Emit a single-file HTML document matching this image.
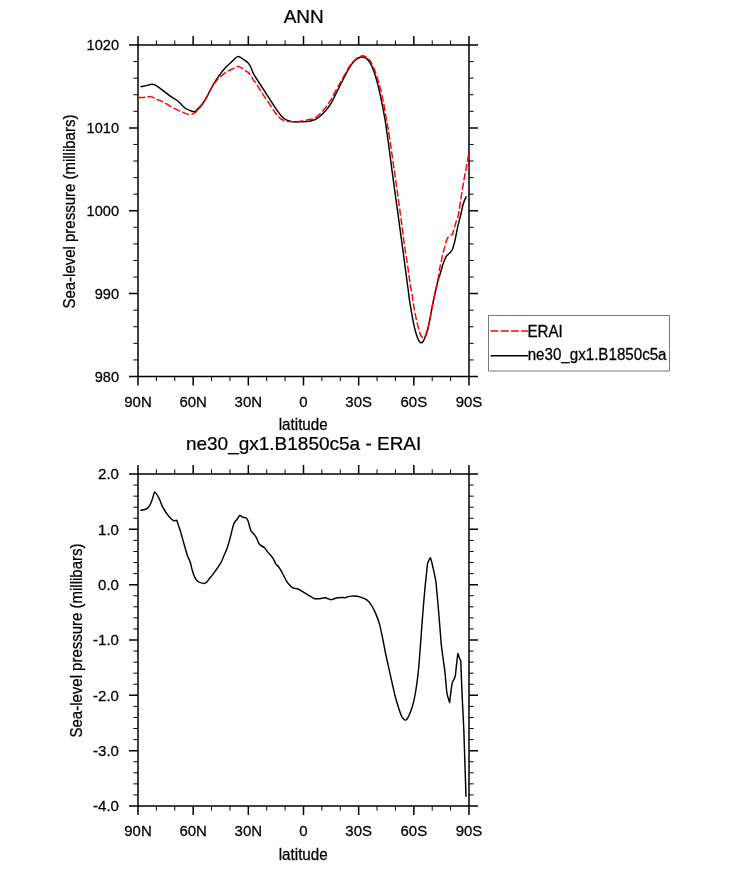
<!DOCTYPE html>
<html><head><meta charset="utf-8"><title>ANN sea-level pressure</title>
<style>
html,body{margin:0;padding:0;background:#fff;}
svg{display:block;will-change:transform;}
text{font-family:"Liberation Sans",sans-serif;fill:#000;stroke:#000;stroke-width:0.25px;}
.t{font-size:19px;text-anchor:middle;}
.x{font-size:15px;text-anchor:middle;}
.y{font-size:14.6px;text-anchor:end;}
.y2{font-size:15.1px;text-anchor:end;}
.a{font-size:15px;text-anchor:middle;}
.a2{font-size:15.2px;text-anchor:middle;}
.l{font-size:15.15px;text-anchor:start;}
</style></head><body>
<svg width="733" height="869" viewBox="0 0 733 869">
<rect width="733" height="869" fill="#fff"/>
<rect x="138.0" y="45.0" width="331.0" height="331.5" fill="none" stroke="#000" stroke-width="1.5"/>
<path d="M138.00 45.0v-9.0M138.00 376.5v9.0M193.17 45.0v-9.0M193.17 376.5v9.0M248.33 45.0v-9.0M248.33 376.5v9.0M303.50 45.0v-9.0M303.50 376.5v9.0M358.67 45.0v-9.0M358.67 376.5v9.0M413.83 45.0v-9.0M413.83 376.5v9.0M469.00 45.0v-9.0M469.00 376.5v9.0M138.0 45.00h-9.0M469.0 45.00h9.0M138.0 127.88h-9.0M469.0 127.88h9.0M138.0 210.75h-9.0M469.0 210.75h9.0M138.0 293.62h-9.0M469.0 293.62h9.0M138.0 376.50h-9.0M469.0 376.50h9.0" stroke="#000" stroke-width="1.5" fill="none"/>
<path d="M156.39 45.0v-4.6M156.39 376.5v4.6M174.78 45.0v-4.6M174.78 376.5v4.6M211.56 45.0v-4.6M211.56 376.5v4.6M229.94 45.0v-4.6M229.94 376.5v4.6M266.72 45.0v-4.6M266.72 376.5v4.6M285.11 45.0v-4.6M285.11 376.5v4.6M321.89 45.0v-4.6M321.89 376.5v4.6M340.28 45.0v-4.6M340.28 376.5v4.6M377.06 45.0v-4.6M377.06 376.5v4.6M395.44 45.0v-4.6M395.44 376.5v4.6M432.22 45.0v-4.6M432.22 376.5v4.6M450.61 45.0v-4.6M450.61 376.5v4.6M138.0 61.58h-4.6M469.0 61.58h4.6M138.0 78.15h-4.6M469.0 78.15h4.6M138.0 94.72h-4.6M469.0 94.72h4.6M138.0 111.30h-4.6M469.0 111.30h4.6M138.0 144.45h-4.6M469.0 144.45h4.6M138.0 161.03h-4.6M469.0 161.03h4.6M138.0 177.60h-4.6M469.0 177.60h4.6M138.0 194.18h-4.6M469.0 194.18h4.6M138.0 227.32h-4.6M469.0 227.32h4.6M138.0 243.90h-4.6M469.0 243.90h4.6M138.0 260.48h-4.6M469.0 260.48h4.6M138.0 277.05h-4.6M469.0 277.05h4.6M138.0 310.20h-4.6M469.0 310.20h4.6M138.0 326.77h-4.6M469.0 326.77h4.6M138.0 343.35h-4.6M469.0 343.35h4.6M138.0 359.93h-4.6M469.0 359.93h4.6" stroke="#000" stroke-width="1.0" fill="none"/>
<rect x="138.0" y="474.0" width="331.0" height="332.0" fill="none" stroke="#000" stroke-width="1.5"/>
<path d="M138.00 474.0v-9.0M138.00 806.0v9.0M193.17 474.0v-9.0M193.17 806.0v9.0M248.33 474.0v-9.0M248.33 806.0v9.0M303.50 474.0v-9.0M303.50 806.0v9.0M358.67 474.0v-9.0M358.67 806.0v9.0M413.83 474.0v-9.0M413.83 806.0v9.0M469.00 474.0v-9.0M469.00 806.0v9.0M138.0 474.00h-9.0M469.0 474.00h9.0M138.0 529.33h-9.0M469.0 529.33h9.0M138.0 584.67h-9.0M469.0 584.67h9.0M138.0 640.00h-9.0M469.0 640.00h9.0M138.0 695.33h-9.0M469.0 695.33h9.0M138.0 750.67h-9.0M469.0 750.67h9.0M138.0 806.00h-9.0M469.0 806.00h9.0" stroke="#000" stroke-width="1.5" fill="none"/>
<path d="M156.39 474.0v-4.6M156.39 806.0v4.6M174.78 474.0v-4.6M174.78 806.0v4.6M211.56 474.0v-4.6M211.56 806.0v4.6M229.94 474.0v-4.6M229.94 806.0v4.6M266.72 474.0v-4.6M266.72 806.0v4.6M285.11 474.0v-4.6M285.11 806.0v4.6M321.89 474.0v-4.6M321.89 806.0v4.6M340.28 474.0v-4.6M340.28 806.0v4.6M377.06 474.0v-4.6M377.06 806.0v4.6M395.44 474.0v-4.6M395.44 806.0v4.6M432.22 474.0v-4.6M432.22 806.0v4.6M450.61 474.0v-4.6M450.61 806.0v4.6M138.0 485.07h-4.6M469.0 485.07h4.6M138.0 496.13h-4.6M469.0 496.13h4.6M138.0 507.20h-4.6M469.0 507.20h4.6M138.0 518.27h-4.6M469.0 518.27h4.6M138.0 540.40h-4.6M469.0 540.40h4.6M138.0 551.47h-4.6M469.0 551.47h4.6M138.0 562.53h-4.6M469.0 562.53h4.6M138.0 573.60h-4.6M469.0 573.60h4.6M138.0 595.73h-4.6M469.0 595.73h4.6M138.0 606.80h-4.6M469.0 606.80h4.6M138.0 617.87h-4.6M469.0 617.87h4.6M138.0 628.93h-4.6M469.0 628.93h4.6M138.0 651.07h-4.6M469.0 651.07h4.6M138.0 662.13h-4.6M469.0 662.13h4.6M138.0 673.20h-4.6M469.0 673.20h4.6M138.0 684.27h-4.6M469.0 684.27h4.6M138.0 706.40h-4.6M469.0 706.40h4.6M138.0 717.47h-4.6M469.0 717.47h4.6M138.0 728.53h-4.6M469.0 728.53h4.6M138.0 739.60h-4.6M469.0 739.60h4.6M138.0 761.73h-4.6M469.0 761.73h4.6M138.0 772.80h-4.6M469.0 772.80h4.6M138.0 783.87h-4.6M469.0 783.87h4.6M138.0 794.93h-4.6M469.0 794.93h4.6" stroke="#000" stroke-width="1.0" fill="none"/>
<path d="M140.30 86.60C140.83 86.53 142.48 86.37 143.50 86.20C144.52 86.03 145.40 85.85 146.40 85.60C147.40 85.35 148.60 84.92 149.50 84.70C150.40 84.48 150.95 84.28 151.80 84.30C152.65 84.32 153.73 84.48 154.60 84.80C155.47 85.12 156.18 85.68 157.00 86.20C157.82 86.72 158.27 86.98 159.50 87.90C160.73 88.82 162.77 90.45 164.40 91.70C166.03 92.95 167.80 94.32 169.30 95.40C170.80 96.48 172.03 97.32 173.40 98.20C174.77 99.08 176.13 99.60 177.50 100.70C178.87 101.80 180.23 103.50 181.60 104.80C182.97 106.10 184.30 107.55 185.70 108.50C187.10 109.45 188.57 109.97 190.00 110.50C191.43 111.03 193.08 111.85 194.30 111.70C195.52 111.55 196.28 110.50 197.30 109.60C198.32 108.70 199.20 107.75 200.40 106.30C201.60 104.85 203.10 103.12 204.50 100.90C205.90 98.68 207.33 95.73 208.80 93.00C210.27 90.27 211.62 87.35 213.30 84.50C214.98 81.65 216.82 78.77 218.90 75.90C220.98 73.03 223.72 69.60 225.80 67.30C227.88 65.00 229.75 63.68 231.40 62.10C233.05 60.52 234.62 58.72 235.70 57.80C236.78 56.88 237.17 56.72 237.90 56.60C238.63 56.48 239.17 56.62 240.10 57.10C241.03 57.58 242.22 58.60 243.50 59.50C244.78 60.40 246.65 61.35 247.80 62.50C248.95 63.65 249.55 64.75 250.40 66.40C251.25 68.05 252.18 70.82 252.90 72.40C253.62 73.98 253.47 73.88 254.70 75.90C255.93 77.92 258.43 81.62 260.30 84.50C262.17 87.38 264.03 90.32 265.90 93.20C267.77 96.08 269.63 98.93 271.50 101.80C273.37 104.67 275.45 108.03 277.10 110.40C278.75 112.77 280.10 114.57 281.40 116.00C282.70 117.43 283.75 118.20 284.90 119.00C286.05 119.80 286.87 120.35 288.30 120.80C289.73 121.25 292.00 121.50 293.50 121.70C295.00 121.90 295.85 122.00 297.30 122.00C298.75 122.00 300.32 121.80 302.20 121.70C304.08 121.60 306.82 121.63 308.60 121.40C310.38 121.17 311.60 120.70 312.90 120.30C314.20 119.90 314.95 119.93 316.40 119.00C317.85 118.07 320.02 116.13 321.60 114.70C323.18 113.27 324.18 112.55 325.90 110.40C327.62 108.25 330.18 104.67 331.90 101.80C333.62 98.93 334.75 96.08 336.20 93.20C337.65 90.32 339.15 87.38 340.60 84.50C342.05 81.62 343.40 78.77 344.90 75.90C346.40 73.03 348.17 69.60 349.60 67.30C351.03 65.00 352.20 63.55 353.50 62.10C354.80 60.65 356.32 59.38 357.40 58.60C358.48 57.82 359.18 57.67 360.00 57.40C360.82 57.13 361.23 56.83 362.30 57.00C363.37 57.17 365.18 57.53 366.40 58.40C367.62 59.27 368.52 60.48 369.60 62.20C370.68 63.92 371.80 65.97 372.90 68.70C374.00 71.43 375.10 74.77 376.20 78.60C377.30 82.43 378.42 86.93 379.50 91.70C380.58 96.47 381.72 102.17 382.70 107.20C383.68 112.23 384.76 118.10 385.40 121.90C386.04 125.70 385.90 125.38 386.55 130.00C387.20 134.62 388.34 142.50 389.30 149.60C390.26 156.70 391.28 164.95 392.30 172.60C393.32 180.25 394.32 187.60 395.40 195.50C396.48 203.40 397.95 213.80 398.80 220.00C399.65 226.20 399.75 227.17 400.50 232.70C401.25 238.23 402.38 246.37 403.30 253.20C404.22 260.03 405.18 267.57 406.00 273.70C406.82 279.83 407.67 285.93 408.20 290.00C408.73 294.07 408.68 294.57 409.20 298.10C409.72 301.63 410.58 307.02 411.30 311.20C412.02 315.38 412.78 319.75 413.50 323.20C414.22 326.65 414.88 329.35 415.60 331.90C416.32 334.45 417.07 336.77 417.80 338.50C418.53 340.23 419.35 341.58 420.00 342.30C420.65 343.02 421.15 342.98 421.70 342.80C422.25 342.62 422.67 342.28 423.30 341.20C423.93 340.12 424.77 338.22 425.50 336.30C426.23 334.38 426.98 332.43 427.70 329.70C428.42 326.97 429.08 323.53 429.80 319.90C430.52 316.27 431.27 311.72 432.00 307.90C432.73 304.08 433.38 300.82 434.20 297.00C435.02 293.18 436.23 287.83 436.90 285.00C437.57 282.17 437.68 281.75 438.20 280.00C438.72 278.25 439.48 276.17 440.00 274.50C440.52 272.83 440.92 271.37 441.30 270.00C441.68 268.63 441.92 267.55 442.30 266.30C442.68 265.05 443.12 263.77 443.60 262.50C444.08 261.23 444.70 259.82 445.20 258.70C445.70 257.58 446.07 256.55 446.60 255.80C447.13 255.05 447.73 254.83 448.40 254.20C449.07 253.57 449.92 252.83 450.60 252.00C451.28 251.17 451.98 250.30 452.50 249.20C453.02 248.10 453.28 246.88 453.70 245.40C454.12 243.92 454.57 242.20 455.00 240.30C455.43 238.40 455.83 236.32 456.30 234.00C456.77 231.68 457.28 228.72 457.80 226.40C458.32 224.08 458.92 222.00 459.40 220.10C459.88 218.20 460.05 217.73 460.70 215.00C461.35 212.27 462.37 206.82 463.30 203.70C464.23 200.58 465.80 197.53 466.30 196.30" fill="none" stroke="#000" stroke-width="1.45" stroke-linejoin="round"/>
<path d="M138.00 97.50C138.58 97.49 140.27 97.50 141.50 97.45C142.73 97.40 144.35 97.31 145.40 97.20C146.45 97.09 146.93 96.90 147.80 96.80C148.67 96.70 149.80 96.53 150.60 96.60C151.40 96.67 151.88 96.88 152.60 97.20C153.32 97.52 154.15 98.10 154.90 98.50C155.65 98.90 155.80 99.08 157.10 99.60C158.40 100.12 160.67 100.60 162.70 101.60C164.73 102.60 167.12 104.33 169.30 105.60C171.48 106.87 173.62 108.12 175.80 109.20C177.98 110.28 180.48 111.28 182.40 112.10C184.32 112.92 185.75 113.75 187.30 114.10C188.85 114.45 190.38 114.45 191.70 114.20C193.02 113.95 193.75 113.80 195.20 112.60C196.65 111.40 198.82 108.95 200.40 107.00C201.98 105.05 203.33 103.13 204.70 100.90C206.07 98.67 207.23 96.12 208.60 93.60C209.97 91.08 211.62 87.88 212.90 85.80C214.18 83.72 215.15 82.53 216.30 81.10C217.45 79.67 218.43 78.50 219.80 77.20C221.17 75.90 223.00 74.38 224.50 73.30C226.00 72.22 227.35 71.48 228.80 70.70C230.25 69.92 231.68 69.32 233.20 68.60C234.72 67.88 236.47 66.48 237.90 66.40C239.33 66.32 240.43 67.32 241.80 68.10C243.17 68.88 244.97 70.30 246.10 71.10C247.23 71.90 247.82 72.17 248.60 72.90C249.38 73.63 250.08 74.43 250.80 75.50C251.52 76.57 251.90 77.80 252.90 79.30C253.90 80.80 255.28 82.18 256.80 84.50C258.32 86.82 260.13 90.32 262.00 93.20C263.87 96.08 266.05 98.93 268.00 101.80C269.95 104.67 272.25 108.25 273.70 110.40C275.15 112.55 275.55 113.33 276.70 114.70C277.85 116.07 279.23 117.58 280.60 118.60C281.97 119.62 283.32 120.30 284.90 120.80C286.48 121.30 288.03 121.47 290.10 121.60C292.17 121.73 295.48 121.67 297.30 121.60C299.12 121.53 299.68 121.40 301.00 121.20C302.32 121.00 303.50 120.72 305.20 120.40C306.90 120.08 309.48 119.77 311.20 119.30C312.92 118.83 313.92 118.62 315.50 117.60C317.08 116.58 319.12 114.75 320.70 113.20C322.28 111.65 323.35 110.48 325.00 108.30C326.65 106.12 328.87 102.92 330.60 100.10C332.33 97.28 333.88 94.13 335.40 91.40C336.92 88.67 338.27 86.28 339.70 83.70C341.13 81.12 342.48 78.63 344.00 75.90C345.52 73.17 347.28 69.67 348.80 67.30C350.32 64.93 351.73 63.22 353.10 61.70C354.47 60.18 355.85 59.05 357.00 58.20C358.15 57.35 359.03 57.00 360.00 56.60C360.97 56.20 361.60 55.60 362.80 55.80C364.00 56.00 365.92 56.87 367.20 57.80C368.48 58.73 369.42 59.72 370.50 61.40C371.58 63.08 372.62 65.32 373.70 67.90C374.78 70.48 375.90 73.48 377.00 76.90C378.10 80.32 379.20 84.03 380.30 88.40C381.40 92.77 382.60 98.05 383.60 103.10C384.60 108.15 385.52 114.22 386.30 118.70C387.08 123.18 387.47 124.85 388.30 130.00C389.13 135.15 390.25 142.50 391.30 149.60C392.35 156.70 393.52 164.95 394.60 172.60C395.68 180.25 396.82 188.43 397.80 195.50C398.78 202.57 399.72 209.25 400.50 215.00C401.28 220.75 401.82 224.77 402.50 230.00C403.18 235.23 403.82 240.95 404.60 246.40C405.38 251.85 406.45 257.70 407.20 262.70C407.95 267.70 408.58 272.68 409.10 276.40C409.62 280.12 409.80 281.93 410.30 285.00C410.80 288.07 411.57 291.53 412.10 294.80C412.63 298.07 412.98 301.42 413.50 304.60C414.02 307.78 414.58 310.80 415.20 313.90C415.82 317.00 416.53 320.38 417.20 323.20C417.87 326.02 418.55 328.70 419.20 330.80C419.85 332.90 420.42 334.62 421.10 335.80C421.78 336.98 422.67 337.73 423.30 337.90C423.93 338.07 424.27 337.98 424.90 336.80C425.53 335.62 426.28 333.62 427.10 330.80C427.92 327.98 428.98 323.72 429.80 319.90C430.62 316.08 431.27 311.72 432.00 307.90C432.73 304.08 433.55 299.98 434.20 297.00C434.85 294.02 435.27 292.98 435.90 290.00C436.53 287.02 437.42 282.43 438.00 279.10C438.58 275.77 439.05 272.13 439.40 270.00C439.75 267.87 439.78 267.77 440.10 266.30C440.42 264.83 440.93 262.90 441.30 261.20C441.67 259.50 441.92 257.78 442.30 256.10C442.68 254.42 443.17 252.68 443.60 251.10C444.03 249.52 444.53 247.98 444.90 246.60C445.27 245.22 445.43 244.05 445.80 242.80C446.17 241.55 446.62 240.15 447.10 239.10C447.58 238.05 448.17 237.12 448.70 236.50C449.23 235.88 449.72 235.72 450.30 235.40C450.88 235.08 451.77 235.05 452.20 234.60C452.63 234.15 452.58 233.65 452.90 232.70C453.22 231.75 453.70 230.27 454.10 228.90C454.50 227.53 454.83 226.08 455.30 224.50C455.77 222.92 456.38 220.98 456.90 219.40C457.42 217.82 457.65 218.98 458.40 215.00C459.15 211.02 460.45 201.48 461.40 195.50C462.35 189.52 463.23 184.02 464.10 179.10C464.97 174.18 465.78 170.50 466.60 166.00C467.42 161.50 468.60 154.42 469.00 152.10" fill="none" stroke="#f00" stroke-width="1.45" stroke-dasharray="7.2 2.4"/>
<path d="M140.30 510.30C140.72 510.24 143.09 510.03 143.90 509.80C144.71 509.57 146.57 508.72 147.20 508.30C147.83 507.88 148.79 507.02 149.30 506.20C149.81 505.38 151.12 502.54 151.60 501.30C152.08 500.06 153.05 496.69 153.40 495.60C153.75 494.52 154.18 492.11 154.60 492.00C155.02 491.89 156.43 493.85 157.00 494.70C157.57 495.55 158.93 498.05 159.50 499.30C160.07 500.55 161.33 504.15 161.90 505.40C162.47 506.65 163.72 508.89 164.40 510.00C165.08 511.11 166.94 513.91 167.70 514.90C168.46 515.89 170.18 517.80 170.90 518.50C171.62 519.20 173.22 520.68 173.90 520.90C174.58 521.12 176.19 519.92 176.70 520.40C177.21 520.88 177.82 523.60 178.30 525.00C178.78 526.40 180.14 530.19 180.80 532.40C181.47 534.61 183.24 541.23 184.00 543.90C184.76 546.57 186.58 553.20 187.30 555.30C188.02 557.40 189.63 560.18 190.20 561.90C190.77 563.62 191.77 568.44 192.20 570.00C192.63 571.56 193.48 574.24 193.90 575.30C194.32 576.36 195.23 578.32 195.80 579.10C196.37 579.88 198.08 581.53 198.80 582.00C199.52 582.47 201.34 582.93 202.00 583.10C202.66 583.27 203.92 583.65 204.50 583.50C205.08 583.35 206.43 582.37 207.00 581.80C207.57 581.23 208.74 579.44 209.40 578.60C210.06 577.76 211.84 575.73 212.70 574.60C213.56 573.47 215.84 570.29 216.80 568.90C217.76 567.51 220.05 564.29 220.90 562.70C221.75 561.11 223.40 556.92 224.10 555.30C224.80 553.68 226.22 550.71 226.90 548.80C227.58 546.89 229.27 541.20 229.90 538.90C230.53 536.60 231.82 530.91 232.30 529.10C232.78 527.29 233.43 524.58 234.00 523.40C234.57 522.22 236.53 519.92 237.20 519.00C237.86 518.08 239.02 515.70 239.70 515.50C240.38 515.30 242.31 517.04 243.00 517.30C243.69 517.56 245.03 517.33 245.60 517.70C246.17 518.07 247.44 519.51 247.90 520.50C248.36 521.49 249.13 525.00 249.50 526.20C249.87 527.40 250.59 529.88 251.10 530.80C251.61 531.72 253.28 533.29 253.90 534.10C254.52 534.91 255.83 536.62 256.40 537.70C256.97 538.79 258.23 542.46 258.80 543.40C259.37 544.34 260.62 545.29 261.30 545.80C261.98 546.31 263.84 547.06 264.60 547.80C265.36 548.53 267.04 551.18 267.80 552.10C268.56 553.02 270.42 554.86 271.10 555.70C271.78 556.54 273.06 558.34 273.60 559.30C274.14 560.26 275.13 563.02 275.70 563.90C276.27 564.77 277.89 566.04 278.50 566.80C279.11 567.56 280.27 569.31 280.90 570.40C281.53 571.49 283.22 574.82 283.90 576.10C284.58 577.38 286.09 580.41 286.70 581.40C287.31 582.39 288.44 583.88 289.10 584.60C289.77 585.32 291.73 587.16 292.40 587.60C293.06 588.04 294.23 588.27 294.80 588.40C295.37 588.53 296.62 588.47 297.30 588.70C297.98 588.93 299.64 589.86 300.60 590.40C301.56 590.94 304.36 592.61 305.50 593.30C306.64 593.99 309.35 595.67 310.40 596.30C311.45 596.93 313.45 598.42 314.50 598.70C315.55 598.98 318.44 598.76 319.40 598.70C320.36 598.64 322.03 598.32 322.70 598.20C323.37 598.08 324.44 597.62 325.10 597.70C325.77 597.78 327.72 598.67 328.40 598.90C329.08 599.13 330.23 599.72 330.90 599.70C331.56 599.68 333.25 598.93 334.10 598.70C334.95 598.47 337.24 597.85 338.20 597.70C339.16 597.55 341.53 597.40 342.30 597.40C343.07 597.40 344.12 597.79 344.80 597.70C345.48 597.61 347.34 596.79 348.10 596.60C348.86 596.41 350.25 596.15 351.30 596.10C352.35 596.05 356.02 596.08 357.10 596.20C358.19 596.32 359.67 596.79 360.60 597.10C361.53 597.41 364.17 598.39 365.10 598.90C366.03 599.41 367.77 600.61 368.60 601.50C369.43 602.39 371.37 605.09 372.20 606.50C373.03 607.91 374.87 611.63 375.70 613.60C376.53 615.57 378.53 620.70 379.30 623.40C380.07 626.10 381.56 633.19 382.30 636.70C383.04 640.21 385.02 650.63 385.60 653.50C386.18 656.37 386.75 658.81 387.30 661.30C387.85 663.78 389.60 671.65 390.30 674.80C391.00 677.95 392.60 685.32 393.30 688.30C394.00 691.27 395.60 697.77 396.30 700.30C397.00 702.83 398.66 708.08 399.30 710.00C399.94 711.92 401.28 715.71 401.80 716.80C402.32 717.88 403.39 718.91 403.80 719.30C404.21 719.68 404.90 720.17 405.30 720.10C405.70 720.03 406.73 719.32 407.20 718.70C407.67 718.08 408.78 715.99 409.30 714.80C409.82 713.61 411.15 710.19 411.70 708.50C412.25 706.81 413.52 702.40 414.00 700.30C414.48 698.20 415.42 692.87 415.80 690.50C416.19 688.13 416.95 682.80 417.30 680.00C417.65 677.20 418.47 670.00 418.80 666.50C419.13 663.00 419.65 656.07 420.10 650.00C420.56 643.93 422.15 621.50 422.70 614.50C423.25 607.50 424.45 593.91 424.80 590.00C425.15 586.09 425.48 583.16 425.70 581.00C425.92 578.84 426.50 573.45 426.70 571.50C426.90 569.55 427.14 565.61 427.40 564.30C427.66 562.99 428.55 561.07 428.90 560.30C429.25 559.53 430.40 557.70 430.40 557.70C430.40 557.70 431.38 560.69 431.70 561.90C432.01 563.11 432.76 566.60 433.10 568.10C433.44 569.61 434.26 573.12 434.60 574.80C434.94 576.48 435.75 580.73 436.00 582.50C436.25 584.27 436.49 587.71 436.70 590.00C436.91 592.29 437.46 598.20 437.80 602.10C438.14 606.00 439.19 618.44 439.60 623.40C440.01 628.36 440.85 640.18 441.30 644.60C441.75 649.02 443.07 658.04 443.50 661.30C443.93 664.55 444.69 669.61 445.00 672.50C445.31 675.39 445.97 683.64 446.20 686.10C446.43 688.56 446.60 691.68 447.00 693.60C447.40 695.52 449.60 702.60 449.60 702.60C449.60 702.60 450.40 695.88 450.70 693.60C451.00 691.33 451.85 684.71 452.20 683.10C452.55 681.49 453.35 680.58 453.70 679.80C454.05 679.02 454.90 677.93 455.20 676.40C455.50 674.87 456.00 669.36 456.30 666.70C456.60 664.04 457.80 653.60 457.80 653.60C457.80 653.60 458.95 656.52 459.30 657.40C459.65 658.27 460.80 661.10 460.80 661.10C460.80 661.10 461.17 671.54 461.30 674.90C461.43 678.26 461.76 686.59 461.90 689.90C462.04 693.21 462.28 698.68 462.50 703.30C462.72 707.92 463.53 722.88 463.80 729.50C464.07 736.12 464.54 752.15 464.80 760.00C465.06 767.85 465.86 792.46 466.00 796.75" fill="none" stroke="#000" stroke-width="1.45" stroke-linejoin="round"/>
<text class="t" transform="translate(303.70 22.80) scale(1 0.99)">ANN</text>
<text class="t" transform="translate(303.60 449.50) scale(1 0.99)">ne30_gx1.B1850c5a - ERAI</text>
<text class="x" transform="translate(138.00 406.90) scale(1 1.025)">90N</text>
<text class="x" transform="translate(193.17 406.90) scale(1 1.025)">60N</text>
<text class="x" transform="translate(248.33 406.90) scale(1 1.025)">30N</text>
<text class="x" transform="translate(303.50 406.90) scale(1 1.025)">0</text>
<text class="x" transform="translate(358.67 406.90) scale(1 1.025)">30S</text>
<text class="x" transform="translate(413.83 406.90) scale(1 1.025)">60S</text>
<text class="x" transform="translate(469.00 406.90) scale(1 1.025)">90S</text>
<text class="x" transform="translate(138.00 836.40) scale(1 1.025)">90N</text>
<text class="x" transform="translate(193.17 836.40) scale(1 1.025)">60N</text>
<text class="x" transform="translate(248.33 836.40) scale(1 1.025)">30N</text>
<text class="x" transform="translate(303.50 836.40) scale(1 1.025)">0</text>
<text class="x" transform="translate(358.67 836.40) scale(1 1.025)">30S</text>
<text class="x" transform="translate(413.83 836.40) scale(1 1.025)">60S</text>
<text class="x" transform="translate(469.00 836.40) scale(1 1.025)">90S</text>
<text class="y" transform="translate(119.00 50.40) scale(1 1.025)">1020</text>
<text class="y" transform="translate(119.00 133.28) scale(1 1.025)">1010</text>
<text class="y" transform="translate(119.00 216.15) scale(1 1.025)">1000</text>
<text class="y" transform="translate(119.00 299.02) scale(1 1.025)">990</text>
<text class="y" transform="translate(119.00 381.90) scale(1 1.025)">980</text>
<text class="y2" transform="translate(119.00 479.40) scale(1 1.025)">2.0</text>
<text class="y2" transform="translate(119.00 534.73) scale(1 1.025)">1.0</text>
<text class="y2" transform="translate(119.00 590.07) scale(1 1.025)">0.0</text>
<text class="y2" transform="translate(119.00 645.40) scale(1 1.025)">-1.0</text>
<text class="y2" transform="translate(119.00 700.73) scale(1 1.025)">-2.0</text>
<text class="y2" transform="translate(119.00 756.07) scale(1 1.025)">-3.0</text>
<text class="y2" transform="translate(119.00 811.40) scale(1 1.025)">-4.0</text>
<text class="a2" transform="translate(303.20 430.00) scale(1 1.05)">latitude</text>
<text class="a2" transform="translate(303.20 859.50) scale(1 1.05)">latitude</text>
<text class="a" transform="translate(74.80 211.60) rotate(-90) scale(1 1.07)">Sea-level pressure (millibars)</text>
<text class="a" transform="translate(82.00 640.50) rotate(-90) scale(1 1.07)">Sea-level pressure (millibars)</text>
<rect x="488.5" y="315.5" width="181" height="55.5" fill="#fff" stroke="#777" stroke-width="1" stroke-linejoin="round"/>
<path d="M490.6 330.9H528.2" stroke="#f00" stroke-width="1.5" stroke-dasharray="7.8 2.4" fill="none"/>
<path d="M490.6 355.8H528.0" stroke="#000" stroke-width="1.5" fill="none"/>
<text class="l" transform="translate(527.50 336.50) scale(1 1.03)">ERAI</text>
<text class="l" transform="translate(527.70 359.50) scale(1 1.03)">ne30_gx1.B1850c5a</text>
</svg></body></html>
